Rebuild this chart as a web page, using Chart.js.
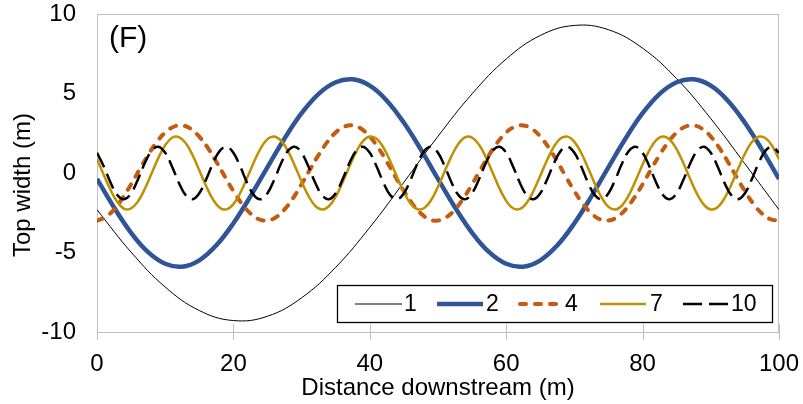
<!DOCTYPE html>
<html lang="en">
<head>
  <meta charset="UTF-8" />
  <title>Top width (F)</title>
  <script src="https://cdn.jsdelivr.net/npm/chart.js@4"></script>
  <style>
    html, body { margin: 0; padding: 0; background: #fff; }
    #wrap { width: 803px; height: 404px; }
  </style>
</head>
<body>
<div id="wrap"><canvas id="topWidthChart" width="803" height="404"></canvas></div>

<script>
  // x positions (m) used by each series
  const xStep5 = [0, 5, 10, 15, 20, 25, 30, 35, 40, 45, 50, 55, 60, 65, 70, 75, 80, 85, 90, 95, 100];
  const xStep2p5 = [0, 2.5, 5, 7.5, 10, 12.5, 15, 17.5, 20, 22.5, 25, 27.5, 30, 32.5, 35, 37.5, 40, 42.5, 45, 47.5,
    50, 52.5, 55, 57.5, 60, 62.5, 65, 67.5, 70, 72.5, 75, 77.5, 80, 82.5, 85, 87.5, 90, 92.5, 95, 97.5, 100];
  const xStep1p25 = [0, 1.25, 2.5, 3.75, 5, 6.25, 7.5, 8.75, 10, 11.25,
    12.5, 13.75, 15, 16.25, 17.5, 18.75, 20, 21.25, 22.5, 23.75,
    25, 26.25, 27.5, 28.75, 30, 31.25, 32.5, 33.75, 35, 36.25,
    37.5, 38.75, 40, 41.25, 42.5, 43.75, 45, 46.25, 47.5, 48.75,
    50, 51.25, 52.5, 53.75, 55, 56.25, 57.5, 58.75, 60, 61.25,
    62.5, 63.75, 65, 66.25, 67.5, 68.75, 70, 71.25, 72.5, 73.75,
    75, 76.25, 77.5, 78.75, 80, 81.25, 82.5, 83.75, 85, 86.25,
    87.5, 88.75, 90, 91.25, 92.5, 93.75, 95, 96.25, 97.5, 98.75, 100];
  const xStep1 = [0, 1, 2, 3, 4, 5, 6, 7, 8, 9, 10, 11, 12, 13, 14, 15, 16, 17, 18, 19,
    20, 21, 22, 23, 24, 25, 26, 27, 28, 29, 30, 31, 32, 33, 34, 35, 36, 37, 38, 39,
    40, 41, 42, 43, 44, 45, 46, 47, 48, 49, 50, 51, 52, 53, 54, 55, 56, 57, 58, 59,
    60, 61, 62, 63, 64, 65, 66, 67, 68, 69, 70, 71, 72, 73, 74, 75, 76, 77, 78, 79,
    80, 81, 82, 83, 84, 85, 86, 87, 88, 89, 90, 91, 92, 93, 94, 95, 96, 97, 98, 99, 100];

  // top width (m)
  const width1 = [-2.31, -4.98, -7.17, -8.65, -9.28, -9.01, -7.85, -5.93, -3.42, -0.58, 2.31,
    4.98, 7.17, 8.65, 9.28, 9.01, 7.85, 5.93, 3.42, 0.58, -2.31];
  const width2 = [-0.37, -2.17, -3.76, -4.98, -5.71, -5.89, -5.49, -4.55, -3.16, -1.47,
    0.37, 2.17, 3.76, 4.98, 5.71, 5.89, 5.49, 4.55, 3.16, 1.47,
    -0.37, -2.17, -3.76, -4.98, -5.71, -5.89, -5.49, -4.55, -3.16, -1.47,
    0.37, 2.17, 3.76, 4.98, 5.71, 5.89, 5.49, 4.55, 3.16, 1.47, -0.37];
  const width4 = [-2.99, -2.78, -2.29, -1.58, -0.71, 0.23, 1.14, 1.94, 2.55, 2.91,
    2.99, 2.78, 2.29, 1.58, 0.71, -0.23, -1.14, -1.94, -2.55, -2.91,
    -2.99, -2.78, -2.29, -1.58, -0.71, 0.23, 1.14, 1.94, 2.55, 2.91,
    2.99, 2.78, 2.29, 1.58, 0.71, -0.23, -1.14, -1.94, -2.55, -2.91,
    -2.99, -2.78, -2.29, -1.58, -0.71, 0.23, 1.14, 1.94, 2.55, 2.91,
    2.99, 2.78, 2.29, 1.58, 0.71, -0.23, -1.14, -1.94, -2.55, -2.91,
    -2.99, -2.78, -2.29, -1.58, -0.71, 0.23, 1.14, 1.94, 2.55, 2.91,
    2.99, 2.78, 2.29, 1.58, 0.71, -0.23, -1.14, -1.94, -2.55, -2.91, -2.99];
  const width7 = [0.87, -0.12, -1.08, -1.84, -2.25, -2.23, -1.79, -1.01, -0.03, 0.95,
    1.75, 2.22, 2.26, 1.88, 1.13, 0.17, -0.82, -1.66, -2.18, -2.29,
    -1.96, -1.26, -0.32, 0.68, 1.55, 2.13, 2.30, 2.03, 1.38, 0.46,
    -0.54, -1.44, -2.07, -2.30, -2.09, -1.49, -0.60, 0.40, 1.33, 2.00,
    2.29, 2.15, 1.60, 0.74, -0.26, -1.21, -1.93, -2.28, -2.20, -1.70,
    -0.87, 0.12, 1.08, 1.84, 2.25, 2.23, 1.79, 1.01, 0.03, -0.95,
    -1.75, -2.22, -2.26, -1.88, -1.13, -0.17, 0.82, 1.66, 2.18, 2.29,
    1.96, 1.26, 0.32, -0.68, -1.55, -2.13, -2.30, -2.03, -1.38, -0.46,
    0.54, 1.44, 2.07, 2.30, 2.09, 1.49, 0.60, -0.40, -1.33, -2.00,
    -2.29, -2.15, -1.60, -0.74, 0.26, 1.21, 1.93, 2.28, 2.20, 1.70, 0.87];
  const width10 = [1.27, 0.41, -0.61, -1.39, -1.65, -1.27, -0.41, 0.61, 1.39, 1.65,
    1.27, 0.41, -0.61, -1.39, -1.65, -1.27, -0.41, 0.61, 1.39, 1.65,
    1.27, 0.41, -0.61, -1.39, -1.65, -1.27, -0.41, 0.61, 1.39, 1.65,
    1.27, 0.41, -0.61, -1.39, -1.65, -1.27, -0.41, 0.61, 1.39, 1.65,
    1.27, 0.41, -0.61, -1.39, -1.65, -1.27, -0.41, 0.61, 1.39, 1.65,
    1.27, 0.41, -0.61, -1.39, -1.65, -1.27, -0.41, 0.61, 1.39, 1.65,
    1.27, 0.41, -0.61, -1.39, -1.65, -1.27, -0.41, 0.61, 1.39, 1.65,
    1.27, 0.41, -0.61, -1.39, -1.65, -1.27, -0.41, 0.61, 1.39, 1.65,
    1.27, 0.41, -0.61, -1.39, -1.65, -1.27, -0.41, 0.61, 1.39, 1.65,
    1.27, 0.41, -0.61, -1.39, -1.65, -1.27, -0.41, 0.61, 1.39, 1.65, 1.27];

  const seriesLabels = ['1', '2', '4', '7', '10'];
  const xTicks = [0, 20, 40, 60, 80, 100];

  const FONT = "'Liberation Sans', Arial, sans-serif";
  const pts = (xs, ys) => xs.map((x, i) => ({ x: x, y: ys[i] }));

  const styles = [
    { color: '#000000', width: 1, dash: [] },
    { color: '#2F5597', width: 4.5, dash: [] },
    { color: '#C55A11', width: 4, dash: [6, 9], cap: 'round' },
    { color: '#BF9000', width: 2.5, dash: [] },
    { color: '#000000', width: 2.5, dash: [16, 7] }
  ];

  // no extra room for overhanging tick labels, the frame is fixed
  function noPad(s) {
    s.paddingTop = 0;
    s.paddingBottom = 0;
    s.paddingLeft = 0;
    s.paddingRight = 0;
  }

  // frame, cross ticks, panel letter, y title and legend box
  const decorations = {
    id: 'decorations',
    beforeDatasetsDraw(chart) {
      const { ctx, chartArea: a, scales } = chart;
      ctx.save();
      ctx.strokeStyle = '#BFBFBF';
      ctx.lineWidth = 1;
      ctx.strokeRect(a.left + 0.5, a.top + 0.5, a.right - a.left - 1, a.bottom - a.top);
      xTicks.forEach(t => {
        const px = Math.round(scales.x.getPixelForValue(t)) + 0.5;
        ctx.beginPath();
        ctx.moveTo(px, a.bottom - 8);
        ctx.lineTo(px, a.bottom + 8);
        ctx.stroke();
      });
      ctx.restore();
    },
    afterDatasetsDraw(chart) {
      const ctx = chart.ctx;
      ctx.save();
      ctx.fillStyle = '#000';
      ctx.font = '30px ' + FONT;
      ctx.textBaseline = 'alphabetic';
      ctx.fillText('(F)', 109, 47);

      ctx.save();
      ctx.translate(23, 185);
      ctx.rotate(-Math.PI / 2);
      ctx.font = '24px ' + FONT;
      ctx.textAlign = 'center';
      ctx.textBaseline = 'middle';
      ctx.fillText('Top width (m)', 0, 0);
      ctx.restore();

      // legend
      ctx.fillStyle = '#fff';
      ctx.fillRect(337, 285, 436, 38);
      ctx.strokeStyle = '#000';
      ctx.lineWidth = 1.3;
      ctx.strokeRect(337.5, 285.5, 435, 37);
      const items = [[355, 402, 404], [437, 483, 486], [520, 561, 565], [600, 646, 650], [683, 728, 731]];
      const ly = 304;
      items.forEach((it, i) => {
        const s = styles[i];
        ctx.beginPath();
        ctx.strokeStyle = s.color;
        ctx.lineWidth = s.width;
        ctx.lineCap = s.cap || 'butt';
        ctx.setLineDash(i === 4 ? [19, 7] : s.dash);
        ctx.moveTo(it[0], ly);
        ctx.lineTo(it[1], ly);
        ctx.stroke();
        ctx.setLineDash([]);
        ctx.fillStyle = '#000';
        ctx.font = '23px ' + FONT;
        ctx.textBaseline = 'middle';
        ctx.fillText(seriesLabels[i], it[2], ly + 1);
      });
      ctx.restore();
    }
  };

  const allX = [xStep5, xStep2p5, xStep1p25, xStep1, xStep1];
  const allY = [width1, width2, width4, width7, width10];

  new Chart(document.getElementById('topWidthChart'), {
    type: 'line',
    data: {
      datasets: seriesLabels.map((lab, i) => ({
        label: lab,
        data: pts(allX[i], allY[i]),
        borderColor: styles[i].color,
        borderWidth: styles[i].width,
        borderDash: styles[i].dash,
        borderCapStyle: styles[i].cap || 'butt',
        pointRadius: 0,
        tension: 0.4,
        fill: false,
        order: 5 - i
      }))
    },
    options: {
      responsive: false,
      animation: false,
      layout: { padding: { top: 14, right: 24, left: 0, bottom: 0 } },
      plugins: { legend: { display: false }, tooltip: { enabled: false } },
      scales: {
        x: {
          type: 'linear',
          min: 0,
          max: 100,
          afterBuildTicks: s => { s.ticks = xTicks.map(v => ({ value: v })); },
          afterFit: s => { s.height = 72; noPad(s); },
          grid: { display: false, drawTicks: false },
          border: { display: false },
          ticks: { color: '#000', font: { family: FONT, size: 24 }, padding: 18, maxRotation: 0 },
          title: {
            display: true,
            text: 'Distance downstream (m)',
            color: '#000',
            font: { family: FONT, size: 24 },
            padding: { top: 0, bottom: 1 }
          }
        },
        y: {
          min: -10,
          max: 10,
          afterFit: s => { s.width = 97; noPad(s); },
          grid: { display: false, drawTicks: false },
          border: { display: false },
          ticks: { stepSize: 5, color: '#000', font: { family: FONT, size: 24 }, padding: 21 }
        }
      }
    },
    plugins: [decorations]
  });
</script>
</body>
</html>
